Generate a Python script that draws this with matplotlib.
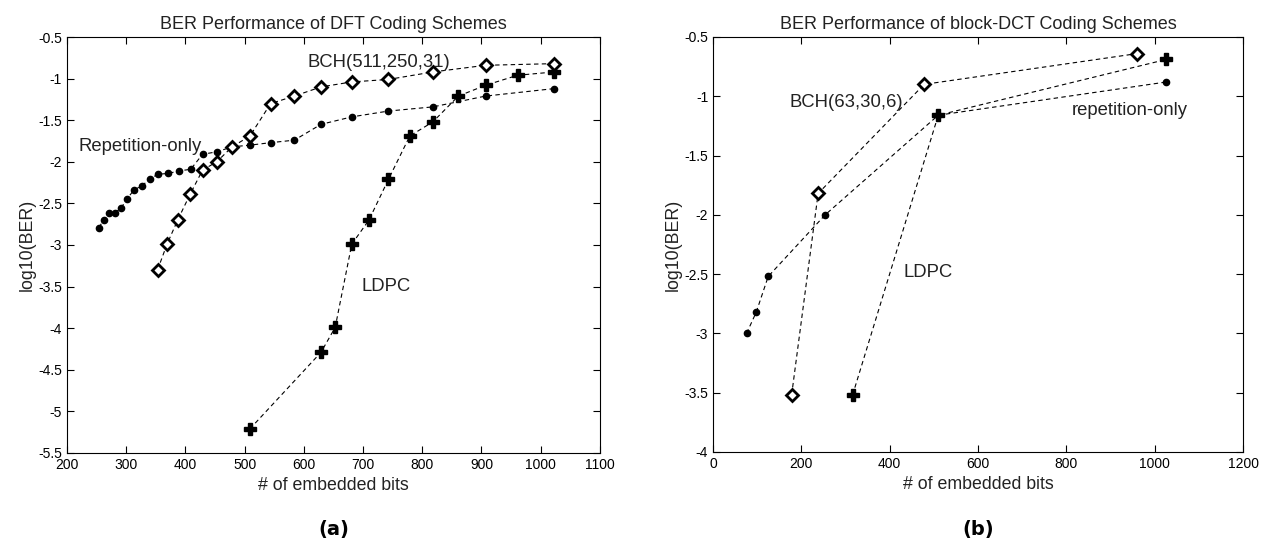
import matplotlib as mpl
mpl.use('Agg')
import numpy as np
import matplotlib.pyplot as plt
from matplotlib.ticker import FuncFormatter

plt.rcParams['font.family'] = ['Liberation Sans', 'DejaVu Sans']
plt.rcParams['font.size'] = 10

# (a) DFT coding schemes
dft_rep_x = [254, 262, 271, 281, 291, 301, 313, 326, 340, 353, 371, 389, 409, 429, 453, 479,
             509, 544, 584, 629, 681, 743, 818, 907, 1023]
dft_rep_y = [-2.79, -2.70, -2.62, -2.61, -2.56, -2.45, -2.34, -2.29, -2.21, -2.15, -2.14, -2.11,
             -2.09, -1.91, -1.88, -1.82, -1.80, -1.77, -1.74, -1.55, -1.46, -1.39, -1.34, -1.21, -1.12]
dft_bch_x = [353, 369, 387, 408, 429, 453, 479, 509, 544, 584, 629, 681, 743, 818, 907, 1023]
dft_bch_y = [-3.30, -2.99, -2.70, -2.39, -2.10, -2.00, -1.82, -1.69, -1.30, -1.21, -1.10, -1.04,
             -1.01, -0.92, -0.84, -0.82]
dft_ldpc_x = [509, 629, 653, 681, 710, 743, 779, 818, 861, 907, 961, 1023]
dft_ldpc_y = [-5.21, -4.29, -3.99, -2.99, -2.70, -2.21, -1.69, -1.52, -1.21, -1.08, -0.96, -0.92]

# (b) block-DCT coding schemes
dct_rep_x = [76, 98, 125, 254, 510, 1026]
dct_rep_y = [-3.00, -2.82, -2.52, -2.00, -1.16, -0.88]
dct_bch_x = [178, 238, 478, 961]
dct_bch_y = [-3.52, -1.82, -0.90, -0.64]
dct_ldpc_x = [316, 510, 1026]
dct_ldpc_y = [-3.52, -1.16, -0.69]

fig = plt.figure(figsize=(12.68, 5.49), dpi=100)
ax1 = fig.add_axes([0.0528, 0.1749, 0.4203, 0.7577])
ax2 = fig.add_axes([0.5623, 0.1767, 0.4180, 0.7560])

line_kw = dict(color='black', linestyle='--', linewidth=0.8, dashes=(4, 3))
fmt = FuncFormatter(lambda v, p: '%g' % v)
txt_col = '#222222'


def draw(ax, rep, bch, ldpc):
    ax.plot(rep[0], rep[1], marker='o', markersize=4.5, markerfacecolor='black',
            markeredgecolor='black', **line_kw)
    ax.plot(ldpc[0], ldpc[1], marker='P', markersize=8, markerfacecolor='black',
            markeredgecolor='black', **line_kw)
    ax.plot(bch[0], bch[1], marker='D', markersize=6.5, markerfacecolor='white',
            markeredgecolor='black', markeredgewidth=2, **line_kw)
    ax.tick_params(direction='in', top=True, right=True, length=5, width=0.8, labelsize=10)
    ax.yaxis.set_major_formatter(fmt)
    ax.set_xlabel('# of embedded bits', fontsize=12.8, color=txt_col)
    ax.set_ylabel('log10(BER)', fontsize=12.8, color=txt_col, labelpad=2)
    for s in ax.spines.values():
        s.set_linewidth(0.8)


draw(ax1, (dft_rep_x, dft_rep_y), (dft_bch_x, dft_bch_y), (dft_ldpc_x, dft_ldpc_y))
ax1.set_xlim(200, 1100)
ax1.set_ylim(-5.5, -0.5)
ax1.set_xticks(np.arange(200, 1101, 100))
ax1.set_yticks(np.arange(-5.5, -0.49, 0.5))
ax1.set_title('BER Performance of DFT Coding Schemes', fontsize=13, pad=6, color=txt_col)
ax1.text(607, -0.81, 'BCH(511,250,31)', fontsize=13.3, va='center', ha='left', color=txt_col)
ax1.text(219, -1.82, 'Repetition-only', fontsize=13.3, va='center', ha='left', color=txt_col)
ax1.text(698, -3.5, 'LDPC', fontsize=13.3, va='center', ha='left', color=txt_col)

draw(ax2, (dct_rep_x, dct_rep_y), (dct_bch_x, dct_bch_y), (dct_ldpc_x, dct_ldpc_y))
ax2.set_xlim(0, 1200)
ax2.set_ylim(-4, -0.5)
ax2.set_xticks(np.arange(0, 1201, 200))
ax2.set_yticks(np.arange(-4, -0.49, 0.5))
ax2.set_title('BER Performance of block-DCT Coding Schemes', fontsize=13, pad=6, color=txt_col)
ax2.text(174, -1.05, 'BCH(63,30,6)', fontsize=13.3, va='center', ha='left', color=txt_col)
ax2.text(812, -1.12, 'repetition-only', fontsize=13.3, va='center', ha='left', color=txt_col)
ax2.text(431, -2.49, 'LDPC', fontsize=13.3, va='center', ha='left', color=txt_col)

fig.text(0.2632, 0.035, '(a)', fontsize=14, fontweight='bold', ha='center', va='center',
         family='DejaVu Sans')
fig.text(0.7715, 0.035, '(b)', fontsize=14, fontweight='bold', ha='center', va='center',
         family='DejaVu Sans')

fig.savefig('out.png', dpi=100)
plt.close(fig)
